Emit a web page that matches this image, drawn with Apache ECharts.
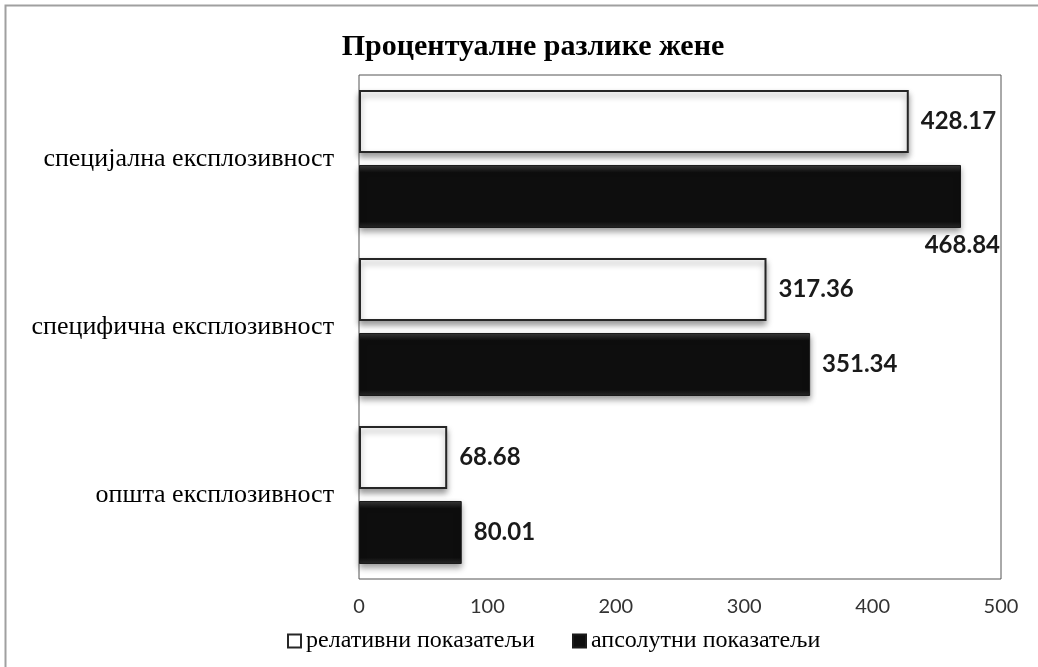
<!DOCTYPE html>
<html lang="sr">
<head>
    <meta charset="UTF-8">
    <title>Процентуалне разлике жене</title>
    <style>
        * {
            margin: 0;
            padding: 0;
        }

        html, body {
            height: 100%;
            width: 100%;
            background: #fff;
        }
    </style>
    <script src="https://cdn.jsdelivr.net/npm/echarts@6/dist/echarts.min.js"></script>
</head>
<body>

<div id="main" style="width: 1038px;height: 667px;"></div>

<script>
    // categories top to bottom
    var categories = ['специјална експлозивност', 'специфична експлозивност', 'општа експлозивност'];
    var relativeVals = [428.17, 317.36, 68.68];
    var absoluteVals = [468.84, 351.34, 80.01];
    var seriesNames = ['релативни показатељи', 'апсолутни показатељи'];

    var myChart = echarts.init(document.getElementById('main'));

    var labelFont = {
        fontFamily: 'Lato',
        fontWeight: 'bold',
        fontSize: 24,
        color: '#1a1a1a'
    };

    // the largest black bar has its label pushed below the bar
    var absData = absoluteVals.map(function (v, i) {
        if (i === 0) {
            return {
                value: v,
                label: {position: ['100%', '100%'], align: 'right', offset: [39, 5], distance: 0}
            };
        }
        return v;
    });

    var legendText = {fontFamily: 'Liberation Serif', fontSize: 24, color: '#000'};

    var option = {
        backgroundColor: '#fff',
        title: {
            text: 'Процентуалне разлике жене',
            left: 528,
            textAlign: 'center',
            top: 27,
            textStyle: {
                fontFamily: 'Liberation Serif',
                fontWeight: 'bold',
                fontSize: 30,
                color: '#000'
            }
        },
        graphic: [{
            type: 'polyline',
            shape: {points: [[5.5, 700], [5.5, 5.5], [1040, 5.5]]},
            style: {stroke: '#a0a0a0', lineWidth: 2, fill: null},
            silent: true
        }],
        legend: [
            {
                data: [seriesNames[0]],
                icon: 'rect',
                left: 282,
                top: 624,
                itemWidth: 13,
                itemHeight: 13,
                textStyle: legendText
            },
            {
                data: [seriesNames[1]],
                icon: 'rect',
                left: 567,
                top: 624,
                itemWidth: 13,
                itemHeight: 13,
                textStyle: legendText
            }
        ],
        grid: {
            left: 359,
            right: 37,
            top: 75,
            bottom: 88,
            show: true,
            borderColor: '#555',
            borderWidth: 1
        },
        xAxis: {
            type: 'value',
            min: 0,
            max: 500,
            interval: 100,
            axisLine: {show: false},
            axisTick: {show: false},
            splitLine: {show: false},
            axisLabel: {
                margin: 18,
                fontFamily: 'Lato',
                fontSize: 20,
                color: '#333'
            }
        },
        yAxis: {
            type: 'category',
            inverse: true,
            data: categories,
            axisLine: {show: false},
            axisTick: {show: false},
            axisLabel: {
                margin: 25,
                fontFamily: 'Liberation Serif',
                fontSize: 26,
                color: '#000'
            }
        },
        series: [
            {
                name: seriesNames[0],
                type: 'bar',
                data: relativeVals,
                barWidth: 63,
                barGap: '19%',
                itemStyle: {
                    color: '#fff',
                    borderColor: '#262626',
                    borderWidth: 2,
                    shadowColor: 'rgba(0,0,0,0.4)',
                    shadowBlur: 6,
                    shadowOffsetY: 4
                },
                label: Object.assign({
                    show: true,
                    position: 'right',
                    distance: 12,
                    formatter: function (p) { return p.value.toFixed(2); }
                }, labelFont)
            },
            {
                name: seriesNames[1],
                type: 'bar',
                data: absData,
                barWidth: 63,
                barGap: '19%',
                itemStyle: {
                    color: {
                        type: 'linear', x: 0, y: 0, x2: 0, y2: 1,
                        colorStops: [
                            {offset: 0, color: '#3a3a3a'},
                            {offset: 0.12, color: '#0e0e0e'},
                            {offset: 0.9, color: '#0e0e0e'},
                            {offset: 1, color: '#2a2a2a'}
                        ]
                    },
                    borderColor: '#1a1a1a',
                    borderWidth: 1,
                    shadowColor: 'rgba(0,0,0,0.4)',
                    shadowBlur: 6,
                    shadowOffsetY: 4
                },
                label: Object.assign({
                    show: true,
                    position: 'right',
                    distance: 12,
                    formatter: function (p) { return p.value.toFixed(2); }
                }, labelFont)
            }
        ]
    };
    myChart.setOption(option);
</script>

</body>
</html>
